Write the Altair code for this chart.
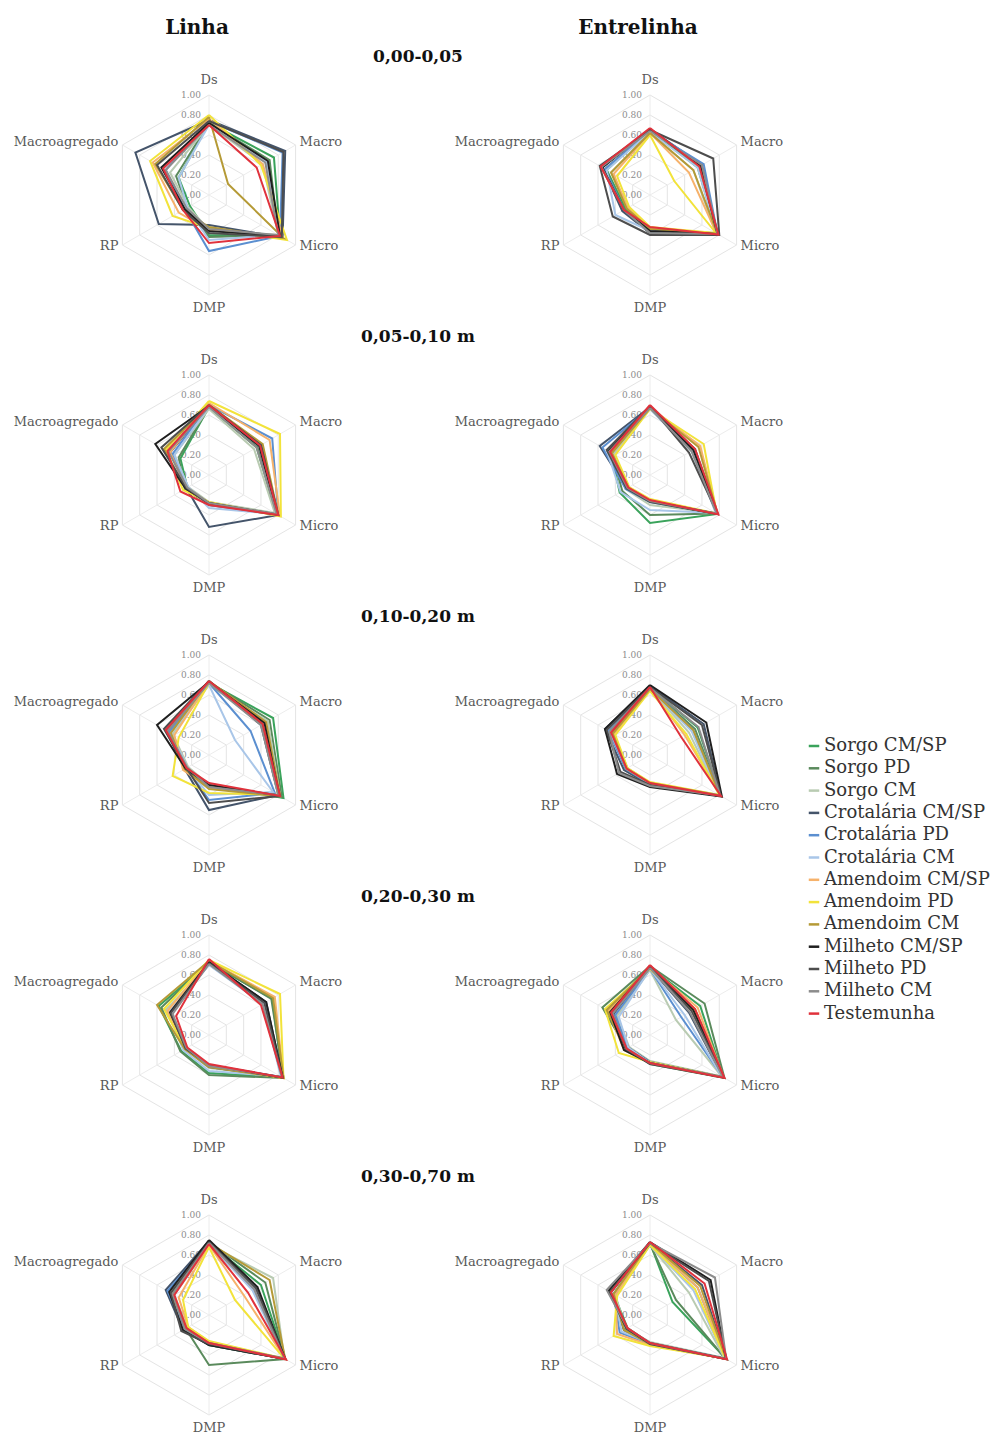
import altair as alt
import pandas as pd

SERIES = ["Sorgo CM/SP", "Sorgo PD", "Sorgo CM",
          "Crotalária CM/SP", "Crotalária PD", "Crotalária CM",
          "Amendoim CM/SP", "Amendoim PD", "Amendoim CM",
          "Milheto CM/SP", "Milheto PD", "Milheto CM", "Testemunha"]
COLORS = ["#3aa35b", "#5a8a5c", "#b9cbb2",
          "#44546a", "#5b8fd0", "#a9c6e8",
          "#f6b26b", "#f2e33a", "#b59a36",
          "#1f1f1f", "#4d4d4d", "#8c8c8c", "#e0323c"]
AXES = ["Ds", "Macro", "Micro", "DMP", "RP", "Macroagregado"]
DEPTHS = ["0,00-0,05", "0,05-0,10 m", "0,10-0,20 m", "0,20-0,30 m", "0,30-0,70 m"]
POSITIONS = ["Linha", "Entrelinha"]
GRID_LEVELS = [0.2, 0.4, 0.6, 0.8, 1.0]
TICK_VALUES = [0.0, 0.2, 0.4, 0.6, 0.8, 1.0]
TICK_LABELS = ["0.00", "0.20", "0.40", "0.60", "0.80", "1.00"]

# values per series: [Ds, Macro, Micro, DMP, RP, Macroagregado]
L1 = [[0.72, 0.75, 0.82, 0.40, 0.22, 0.35],
      [0.72, 0.70, 0.80, 0.42, 0.25, 0.38],
      [0.70, 0.62, 0.80, 0.35, 0.24, 0.45],
      [0.75, 0.88, 0.85, 0.30, 0.58, 0.85],
      [0.74, 0.85, 0.82, 0.56, 0.28, 0.50],
      [0.70, 0.66, 0.80, 0.45, 0.25, 0.35],
      [0.76, 0.62, 0.85, 0.35, 0.35, 0.65],
      [0.80, 0.60, 0.90, 0.33, 0.42, 0.68],
      [0.78, 0.22, 0.86, 0.32, 0.30, 0.62],
      [0.72, 0.68, 0.82, 0.36, 0.28, 0.55],
      [0.74, 0.86, 0.84, 0.38, 0.30, 0.60],
      [0.70, 0.65, 0.80, 0.34, 0.26, 0.50],
      [0.70, 0.55, 0.82, 0.48, 0.30, 0.53]]
E1 = [[0.65, 0.55, 0.78, 0.36, 0.28, 0.50],
      [0.64, 0.58, 0.78, 0.38, 0.30, 0.52],
      [0.62, 0.50, 0.76, 0.34, 0.25, 0.45],
      [0.66, 0.60, 0.78, 0.38, 0.32, 0.55],
      [0.64, 0.62, 0.78, 0.35, 0.30, 0.52],
      [0.63, 0.55, 0.77, 0.36, 0.40, 0.50],
      [0.62, 0.45, 0.77, 0.33, 0.26, 0.42],
      [0.60, 0.28, 0.76, 0.32, 0.24, 0.38],
      [0.62, 0.50, 0.78, 0.34, 0.27, 0.45],
      [0.66, 0.58, 0.78, 0.36, 0.30, 0.55],
      [0.65, 0.73, 0.80, 0.40, 0.43, 0.58],
      [0.64, 0.60, 0.78, 0.38, 0.30, 0.56],
      [0.67, 0.57, 0.79, 0.32, 0.30, 0.57]]
L2 = [[0.68, 0.55, 0.78, 0.28, 0.25, 0.33],
      [0.68, 0.56, 0.78, 0.30, 0.28, 0.35],
      [0.66, 0.52, 0.76, 0.27, 0.24, 0.40],
      [0.70, 0.60, 0.80, 0.52, 0.26, 0.45],
      [0.70, 0.73, 0.80, 0.30, 0.25, 0.42],
      [0.68, 0.58, 0.78, 0.33, 0.24, 0.40],
      [0.72, 0.70, 0.82, 0.28, 0.26, 0.45],
      [0.74, 0.82, 0.83, 0.27, 0.30, 0.50],
      [0.70, 0.62, 0.80, 0.28, 0.27, 0.52],
      [0.69, 0.58, 0.79, 0.28, 0.27, 0.62],
      [0.70, 0.60, 0.80, 0.29, 0.26, 0.55],
      [0.68, 0.55, 0.78, 0.28, 0.25, 0.47],
      [0.70, 0.59, 0.80, 0.30, 0.33, 0.48]]
E2 = [[0.68, 0.50, 0.78, 0.48, 0.35, 0.45],
      [0.67, 0.48, 0.77, 0.40, 0.32, 0.44],
      [0.66, 0.50, 0.76, 0.30, 0.28, 0.42],
      [0.68, 0.52, 0.78, 0.26, 0.27, 0.58],
      [0.67, 0.50, 0.77, 0.27, 0.28, 0.55],
      [0.66, 0.48, 0.76, 0.35, 0.34, 0.50],
      [0.68, 0.58, 0.78, 0.25, 0.25, 0.45],
      [0.66, 0.62, 0.77, 0.24, 0.24, 0.40],
      [0.67, 0.56, 0.78, 0.26, 0.25, 0.44],
      [0.68, 0.50, 0.78, 0.26, 0.26, 0.48],
      [0.69, 0.45, 0.78, 0.27, 0.27, 0.50],
      [0.67, 0.48, 0.77, 0.26, 0.26, 0.47],
      [0.70, 0.52, 0.79, 0.25, 0.25, 0.46]]
L3 = [[0.72, 0.74, 0.86, 0.30, 0.25, 0.45],
      [0.73, 0.70, 0.84, 0.32, 0.26, 0.48],
      [0.70, 0.68, 0.82, 0.30, 0.24, 0.42],
      [0.74, 0.60, 0.80, 0.55, 0.28, 0.50],
      [0.72, 0.48, 0.76, 0.45, 0.26, 0.46],
      [0.70, 0.30, 0.74, 0.40, 0.25, 0.44],
      [0.73, 0.65, 0.82, 0.33, 0.30, 0.40],
      [0.72, 0.62, 0.80, 0.38, 0.42, 0.35],
      [0.74, 0.66, 0.82, 0.34, 0.28, 0.44],
      [0.73, 0.64, 0.81, 0.30, 0.27, 0.60],
      [0.74, 0.62, 0.82, 0.48, 0.26, 0.52],
      [0.72, 0.60, 0.80, 0.32, 0.25, 0.48],
      [0.74, 0.62, 0.82, 0.28, 0.26, 0.50]]
E3 = [[0.68, 0.55, 0.82, 0.30, 0.28, 0.45],
      [0.67, 0.52, 0.81, 0.29, 0.27, 0.44],
      [0.66, 0.45, 0.80, 0.28, 0.26, 0.42],
      [0.69, 0.62, 0.82, 0.30, 0.30, 0.52],
      [0.67, 0.50, 0.81, 0.29, 0.28, 0.48],
      [0.66, 0.48, 0.80, 0.28, 0.27, 0.46],
      [0.66, 0.40, 0.82, 0.28, 0.27, 0.42],
      [0.64, 0.42, 0.80, 0.27, 0.26, 0.40],
      [0.66, 0.50, 0.81, 0.28, 0.27, 0.43],
      [0.70, 0.65, 0.83, 0.32, 0.38, 0.52],
      [0.68, 0.60, 0.82, 0.30, 0.34, 0.50],
      [0.67, 0.56, 0.81, 0.31, 0.36, 0.47],
      [0.68, 0.36, 0.82, 0.28, 0.27, 0.45]]
L4 = [[0.72, 0.73, 0.85, 0.38, 0.32, 0.58],
      [0.73, 0.72, 0.86, 0.40, 0.33, 0.55],
      [0.70, 0.65, 0.84, 0.33, 0.28, 0.50],
      [0.72, 0.66, 0.85, 0.32, 0.27, 0.45],
      [0.71, 0.64, 0.84, 0.30, 0.26, 0.44],
      [0.70, 0.62, 0.83, 0.36, 0.30, 0.46],
      [0.74, 0.76, 0.86, 0.30, 0.26, 0.48],
      [0.75, 0.82, 0.86, 0.31, 0.27, 0.52],
      [0.74, 0.74, 0.86, 0.32, 0.28, 0.60],
      [0.73, 0.66, 0.85, 0.30, 0.26, 0.45],
      [0.72, 0.64, 0.85, 0.30, 0.27, 0.44],
      [0.71, 0.62, 0.84, 0.31, 0.26, 0.42],
      [0.76, 0.60, 0.85, 0.29, 0.25, 0.38]]
E4 = [[0.68, 0.58, 0.85, 0.28, 0.26, 0.50],
      [0.69, 0.63, 0.86, 0.29, 0.27, 0.55],
      [0.65, 0.30, 0.83, 0.26, 0.24, 0.38],
      [0.67, 0.45, 0.84, 0.27, 0.25, 0.42],
      [0.66, 0.36, 0.84, 0.27, 0.26, 0.40],
      [0.66, 0.40, 0.83, 0.28, 0.25, 0.36],
      [0.68, 0.55, 0.85, 0.28, 0.30, 0.48],
      [0.66, 0.50, 0.84, 0.27, 0.36, 0.52],
      [0.67, 0.52, 0.85, 0.28, 0.28, 0.50],
      [0.68, 0.50, 0.85, 0.28, 0.30, 0.46],
      [0.68, 0.48, 0.85, 0.29, 0.28, 0.44],
      [0.67, 0.46, 0.84, 0.28, 0.27, 0.43],
      [0.70, 0.52, 0.86, 0.28, 0.27, 0.45]]
L5 = [[0.72, 0.60, 0.88, 0.30, 0.26, 0.42],
      [0.73, 0.65, 0.88, 0.50, 0.27, 0.45],
      [0.70, 0.74, 0.87, 0.28, 0.25, 0.40],
      [0.74, 0.55, 0.88, 0.30, 0.30, 0.50],
      [0.72, 0.52, 0.87, 0.29, 0.28, 0.48],
      [0.71, 0.50, 0.87, 0.28, 0.26, 0.45],
      [0.70, 0.40, 0.88, 0.27, 0.24, 0.35],
      [0.68, 0.30, 0.87, 0.26, 0.24, 0.30],
      [0.72, 0.70, 0.88, 0.28, 0.26, 0.44],
      [0.75, 0.56, 0.88, 0.30, 0.30, 0.46],
      [0.73, 0.54, 0.88, 0.29, 0.32, 0.44],
      [0.72, 0.52, 0.87, 0.28, 0.28, 0.42],
      [0.71, 0.45, 0.89, 0.28, 0.26, 0.40]]
E5 = [[0.72, 0.26, 0.88, 0.28, 0.26, 0.42],
      [0.71, 0.30, 0.87, 0.28, 0.30, 0.40],
      [0.70, 0.45, 0.86, 0.27, 0.28, 0.40],
      [0.72, 0.60, 0.88, 0.29, 0.30, 0.45],
      [0.71, 0.55, 0.87, 0.29, 0.35, 0.42],
      [0.70, 0.50, 0.87, 0.28, 0.33, 0.40],
      [0.72, 0.55, 0.88, 0.30, 0.38, 0.40],
      [0.70, 0.52, 0.87, 0.31, 0.42, 0.38],
      [0.72, 0.58, 0.88, 0.29, 0.30, 0.42],
      [0.73, 0.70, 0.88, 0.28, 0.27, 0.48],
      [0.72, 0.68, 0.88, 0.29, 0.27, 0.46],
      [0.72, 0.75, 0.88, 0.28, 0.26, 0.50],
      [0.73, 0.63, 0.89, 0.28, 0.26, 0.45]]

PANELS = [(0, 0, L1), (0, 1, E1), (1, 0, L2), (1, 1, E2), (2, 0, L3),
          (2, 1, E3), (3, 0, L4), (3, 1, E4), (4, 0, L5), (4, 1, E5)]

W, H = 984, 1429
SERIF = "DejaVu Serif"

# ---- build tables ----
series_rows = []
for r, c, vals in PANELS:
    for si, s in enumerate(SERIES):
        for k in range(7):
            series_rows.append(dict(row=r, col=c, panel=f"{r}-{c}", series=s,
                                    k=k, ax=k % 6, v=vals[si][k % 6]))
series_df = pd.DataFrame(series_rows)

grid_rows, spoke_rows, tick_rows, label_rows = [], [], [], []
for r, c, _ in PANELS:
    for lev in GRID_LEVELS:
        for k in range(7):
            grid_rows.append(dict(row=r, col=c, gid=f"{r}-{c}-{lev}", k=k, ax=k % 6, v=lev))
    for a in range(6):
        for k, lev in enumerate([0.0, 1.0]):
            spoke_rows.append(dict(row=r, col=c, gid=f"{r}-{c}-{a}", k=k, ax=a, v=lev))
        label_rows.append(dict(row=r, col=c, ax=a, text=AXES[a], v=1.0))
    for tv, tl in zip(TICK_VALUES, TICK_LABELS):
        tick_rows.append(dict(row=r, col=c, ax=0, v=tv, text=tl))
grid_df = pd.DataFrame(grid_rows)
spoke_df = pd.DataFrame(spoke_rows)
tick_df = pd.DataFrame(tick_rows)
label_df = pd.DataFrame(label_rows)

col_title_df = pd.DataFrame({"col": [0, 1], "row": [0, 0], "text": POSITIONS})
depth_df = pd.DataFrame({"col": [0] * 5, "row": list(range(5)), "text": DEPTHS})

xs = alt.Scale(domain=[0, W], nice=False, zero=False)
ys = alt.Scale(domain=[0, H], nice=False, zero=False, reverse=True)


def polar(ch):
    return ch.transform_calculate(
        cx="201 + 441 * datum.col",
        cy="187 + 280 * datum.row",
    ).transform_calculate(
        px="datum.cx + 100 * datum.v * sin(datum.ax * PI / 3)",
        py="datum.cy - 100 * datum.v * cos(datum.ax * PI / 3)",
    )


X = alt.X("px:Q", scale=xs, axis=None)
Y = alt.Y("py:Q", scale=ys, axis=None)

grid = polar(alt.Chart(grid_df)).mark_line(color="#e4e4e4", strokeWidth=1).encode(
    x=X, y=Y, detail="gid:N", order="k:Q")
spokes = polar(alt.Chart(spoke_df)).mark_line(color="#ececec", strokeWidth=1).encode(
    x=X, y=Y, detail="gid:N", order="k:Q")
ticks = polar(alt.Chart(tick_df)).mark_text(
    align="right", baseline="middle", dx=-8, font=SERIF, fontSize=9, color="#8c8c8c"
).encode(x=X, y=Y, text="text:N")

lines = polar(alt.Chart(series_df)).mark_line(strokeWidth=2).encode(
    x=X, y=Y,
    color=alt.Color("series:N", scale=alt.Scale(domain=SERIES, range=COLORS),
                    sort=SERIES,
                    legend=alt.Legend(orient="none", legendX=797, legendY=729, title=None,
                                      symbolType="stroke", symbolSize=110,
                                      symbolStrokeWidth=2.5, labelFont=SERIF,
                                      labelFontSize=18, labelColor="#333333",
                                      labelLimit=400, rowPadding=4.3, padding=0,
                                      labelOffset=1)),
    detail="panel:N", order="k:Q")


def axis_labels(align, axes_sel):
    base = polar(alt.Chart(label_df)).transform_filter(
        alt.FieldOneOfPredicate(field="ax", oneOf=axes_sel)
    ).transform_calculate(
        lx="datum.px + ((datum.ax == 1 || datum.ax == 2) ? 4 : ((datum.ax == 4 || datum.ax == 5) ? -4 : 0))",
        ly="datum.py + (datum.ax == 0 ? -15 : (datum.ax == 3 ? 13 : ((datum.ax == 1 || datum.ax == 5) ? -3 : 1)))",
    )
    return base.mark_text(align=align, baseline="middle", font=SERIF, fontSize=13,
                          color="#595959").encode(
        x=alt.X("lx:Q", scale=xs, axis=None),
        y=alt.Y("ly:Q", scale=ys, axis=None),
        text="text:N")


lab_c = axis_labels("center", [0, 3])
lab_l = axis_labels("left", [1, 2])
lab_r = axis_labels("right", [4, 5])

col_titles = alt.Chart(col_title_df).transform_calculate(
    tx="201 + 441 * datum.col - 12", ty="20 + 280 * datum.row"
).mark_text(font=SERIF, fontSize=20, fontWeight="bold", color="#111111",
            baseline="middle").encode(
    x=alt.X("tx:Q", scale=xs, axis=None), y=alt.Y("ty:Q", scale=ys, axis=None), text="text:N")

depth_titles = alt.Chart(depth_df).transform_calculate(
    tx="201 + 441 * datum.col + 209", ty="49 + 280 * datum.row"
).mark_text(font=SERIF, fontSize=17, fontWeight="bold", color="#111111",
            baseline="middle").encode(
    x=alt.X("tx:Q", scale=xs, axis=None), y=alt.Y("ty:Q", scale=ys, axis=None), text="text:N")

chart = alt.layer(grid, spokes, ticks, lines, lab_c, lab_l, lab_r, col_titles, depth_titles
                  ).properties(width=W, height=H, padding=0,
                               autosize=alt.AutoSizeParams(type="none")
                               ).configure_view(stroke=None)

chart.save("out.html", embed_options={"renderer": "svg", "actions": False})
